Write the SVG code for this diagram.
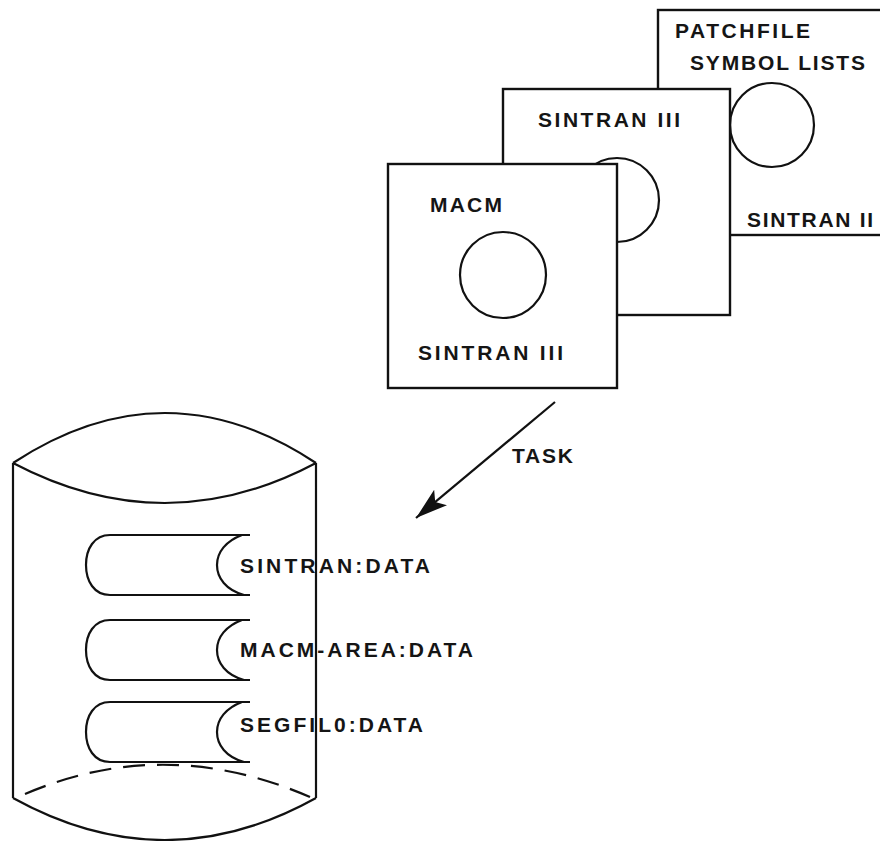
<svg xmlns="http://www.w3.org/2000/svg" xmlns:xlink="http://www.w3.org/1999/xlink" width="880" height="841" viewBox="0 0 880 841">
<style>
.ln{fill:none;stroke:#111;stroke-width:2.2}
.card{fill:#fff;stroke:#111;stroke-width:2.4}
.cir{fill:none;stroke:#111;stroke-width:2.2}
.t{font-family:"Liberation Sans",Arial,sans-serif;font-size:21px;font-weight:bold;fill:#151515}
</style>
<defs>
<marker id="ah" markerUnits="userSpaceOnUse" markerWidth="34" markerHeight="24" refX="32" refY="12" orient="auto">
<path d="M0,2 L32,12 L0,22 L7,12 Z" fill="#111"/>
</marker>
<path id="platter" class="ln" d="M110,0 L250,0 M110,60 L250,60 M110,0 C94,0 86,14 86,30 C86,46 94,60 110,60 M242,0 C226,6 217,17 217,30 C217,43 226,55 244,60"/>
</defs>
<rect width="880" height="841" fill="#fff"/>
<g id="card-patchfile">
<rect class="card" x="658" y="10" width="240" height="225"/>
<circle class="cir" cx="772" cy="125" r="42"/>
<text class="t" x="675" y="38" textLength="135" lengthAdjust="spacing">PATCHFILE</text>
<text class="t" x="690" y="70" textLength="175" lengthAdjust="spacing">SYMBOL LISTS</text>
<text class="t" x="747" y="227" textLength="126" lengthAdjust="spacing">SINTRAN II</text>
</g>
<g id="card-sintran">
<rect class="card" x="503" y="89" width="227" height="226"/>
<circle class="cir" cx="617" cy="200" r="42"/>
<text class="t" x="538" y="127" textLength="142" lengthAdjust="spacing">SINTRAN III</text>
</g>
<g id="card-macm">
<rect class="card" x="388" y="164" width="229" height="224"/>
<circle class="cir" cx="503" cy="275" r="43"/>
<text class="t" x="430" y="212" textLength="72" lengthAdjust="spacing">MACM</text>
<text class="t" x="418" y="360" textLength="145" lengthAdjust="spacing">SINTRAN III</text>
</g>
<g id="disk">
<path class="ln" d="M13,463 Q165,363 316,463 M13,463 Q165,543 316,463 M13,463 L13,798 M316,463 L316,798 M13,798 Q165,882 316,798"/>
<path class="ln" stroke-dasharray="22,12" d="M25,794 Q165,734 310,797"/>
<use xlink:href="#platter" y="535"/>
<use xlink:href="#platter" y="620"/>
<use xlink:href="#platter" y="702"/>
<text class="t" x="240" y="573" textLength="190" lengthAdjust="spacing">SINTRAN:DATA</text>
<text class="t" x="240" y="657" textLength="233" lengthAdjust="spacing">MACM-AREA:DATA</text>
<text class="t" x="240" y="732" textLength="183" lengthAdjust="spacing">SEGFIL0:DATA</text>
</g>
<g id="connectors">
<line class="ln" x1="555" y1="402" x2="416" y2="518" marker-end="url(#ah)"/>
<text class="t" x="512" y="463" textLength="61" lengthAdjust="spacing">TASK</text>
</g>
</svg>
